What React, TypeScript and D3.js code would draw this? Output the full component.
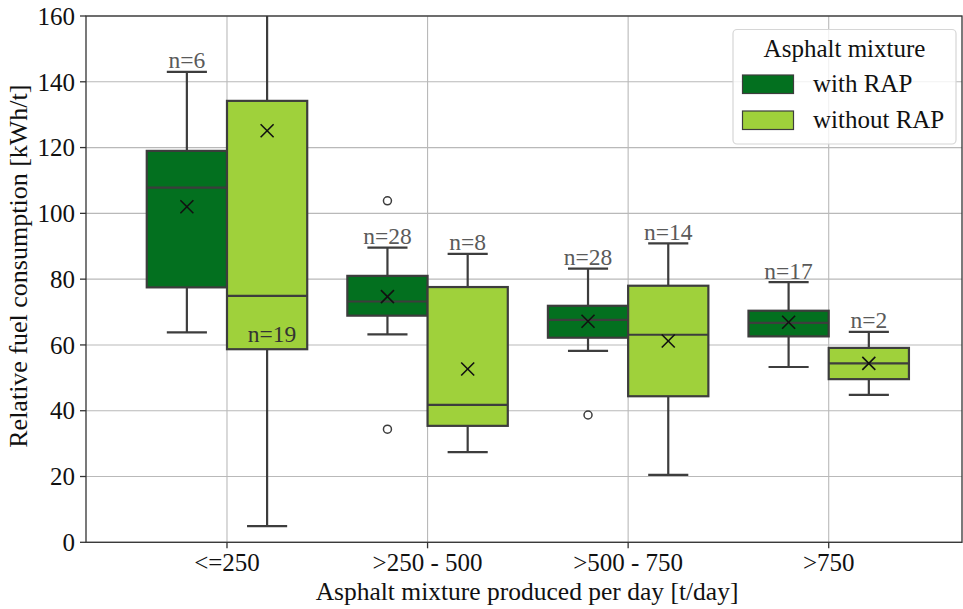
import React from "react";
import * as d3 from "d3";

const categories = ["<=250", ">250 - 500", ">500 - 750", ">750"];
const series = ["with RAP", "without RAP"];
const colors = ["#03701f", "#9fd13b"];

// [whiskerLow, q1, median, q3, whiskerHigh, mean] per category
const withRAP = [
  [63.8, 77.5, 107.8, 119.0, 143.0, 102.0],
  [63.2, 68.9, 73.2, 81.0, 89.6, 74.7],
  [58.2, 62.2, 67.6, 71.9, 83.2, 67.2],
  [53.3, 62.6, 66.7, 70.4, 79.1, 66.9],
];
const withoutRAP = [
  [4.9, 58.7, 74.9, 134.2, 176.0, 125.1],
  [27.4, 35.4, 41.8, 77.6, 87.7, 52.7],
  [20.5, 44.4, 63.1, 78.0, 90.9, 61.2],
  [44.8, 49.6, 54.4, 59.1, 64.0, 54.4],
];
const withRAPOutliers = [[], [103.8, 34.4], [38.7], []];
const withoutRAPOutliers = [[], [], [], []];
const withRAPCounts = [6, 28, 28, 17];
const withoutRAPCounts = [19, 8, 14, 2];
// value at which the n-label sits when the whisker leaves the plot (null = above whisker)
const withRAPLabelAt = [null, null, null, null];
const withoutRAPLabelAt = [61, null, null, null];

const yTicks = [0, 20, 40, 60, 80, 100, 120, 140, 160];

const W = 963;
const H = 609;
const left = 86;
const right = 962;
const top = 16;
const bottom = 542.3;
const font = "'Liberation Serif', 'Times New Roman', serif";

export default function App() {
  const y = d3.scaleLinear().domain([0, 160]).range([bottom, top]);
  const x = d3.scaleBand<string>().domain(categories).range([126.7, 929]).padding(0);
  const sub = d3
    .scaleBand<string>()
    .domain(series)
    .range([0, x.bandwidth()])
    .paddingInner(0)
    .paddingOuter(0.25);

  const all = [
    { stats: withRAP, outliers: withRAPOutliers, counts: withRAPCounts, labelAt: withRAPLabelAt },
    { stats: withoutRAP, outliers: withoutRAPOutliers, counts: withoutRAPCounts, labelAt: withoutRAPLabelAt },
  ];

  const edge = "#3d3d3d";
  const bw = sub.bandwidth();
  const capHalf = bw * 0.25;

  return (
    <svg
      width={W}
      height={H}
      style={{ position: "absolute", left: 0, top: 0, background: "#fff" }}
      fontFamily={font}
    >
      <defs>
        <clipPath id="plotclip">
          <rect x={left} y={top} width={right - left} height={bottom - top} />
        </clipPath>
      </defs>
      {/* grid */}
      <g stroke="#b9b9b9" strokeWidth={1.1}>
        {yTicks.map((t) => (
          <line key={t} x1={left} x2={right} y1={y(t)} y2={y(t)} />
        ))}
        {categories.map((c) => {
          const cx = (x(c) as number) + x.bandwidth() / 2;
          return <line key={c} x1={cx} x2={cx} y1={top} y2={bottom} />;
        })}
      </g>

      {/* boxes */}
      <g clipPath="url(#plotclip)">
        {all.map((s, si) =>
          categories.map((c, ci) => {
            const [lo, q1, med, q3, hi, mean] = s.stats[ci];
            const x0 = (x(c) as number) + (sub(series[si]) as number);
            const cx = x0 + bw / 2;
            return (
              <g key={`${si}-${ci}`}>
                <line x1={cx} x2={cx} y1={y(q3)} y2={y(hi)} stroke={edge} strokeWidth={2.2} />
                <line x1={cx} x2={cx} y1={y(q1)} y2={y(lo)} stroke={edge} strokeWidth={2.2} />
                <line x1={cx - capHalf} x2={cx + capHalf} y1={y(hi)} y2={y(hi)} stroke={edge} strokeWidth={2.2} />
                <line x1={cx - capHalf} x2={cx + capHalf} y1={y(lo)} y2={y(lo)} stroke={edge} strokeWidth={2.2} />
                <rect
                  x={x0}
                  y={y(q3)}
                  width={bw}
                  height={y(q1) - y(q3)}
                  fill={colors[si]}
                  stroke={edge}
                  strokeWidth={2.2}
                />
                <line x1={x0} x2={x0 + bw} y1={y(med)} y2={y(med)} stroke={edge} strokeWidth={2.2} />
                <g stroke="#111" strokeWidth={1.6}>
                  <line x1={cx - 6.5} x2={cx + 6.5} y1={y(mean) - 6.5} y2={y(mean) + 6.5} />
                  <line x1={cx - 6.5} x2={cx + 6.5} y1={y(mean) + 6.5} y2={y(mean) - 6.5} />
                </g>
                {s.outliers[ci].map((o, oi) => (
                  <circle key={oi} cx={cx} cy={y(o)} r={4} fill="none" stroke={edge} strokeWidth={1.5} />
                ))}
              </g>
            );
          })
        )}
      </g>

      {/* n labels */}
      {all.map((s, si) =>
        categories.map((c, ci) => {
          const hi = s.stats[ci][4];
          const x0 = (x(c) as number) + (sub(series[si]) as number);
          const cx = x0 + bw / 2;
          const at = s.labelAt[ci];
          const yy = at === null ? y(hi) - 3.5 : y(at);
          const tx = at === null ? cx : cx + 5;
          return (
            <text
              key={`n-${si}-${ci}`}
              x={tx}
              y={yy}
              textAnchor="middle"
              fontSize={23.5}
              fill={at === null ? "#5a5a5a" : "#333"}
            >
              {`n=${s.counts[ci]}`}
            </text>
          );
        })
      )}

      {/* spines */}
      <rect x={left} y={top} width={right - left} height={bottom - top} fill="none" stroke="#333" strokeWidth={1.3} />

      {/* y axis */}
      {yTicks.map((t) => (
        <g key={t}>
          <line x1={left - 6} x2={left} y1={y(t)} y2={y(t)} stroke="#333" strokeWidth={1.3} />
          <text x={left - 11} y={y(t)} dy="0.35em" textAnchor="end" fontSize={25} fill="#111">
            {t}
          </text>
        </g>
      ))}
      {/* x axis */}
      {categories.map((c) => {
        const cx = (x(c) as number) + x.bandwidth() / 2;
        return (
          <g key={c}>
            <line x1={cx} x2={cx} y1={bottom} y2={bottom + 6} stroke="#333" strokeWidth={1.3} />
            <text x={cx} y={bottom + 29} textAnchor="middle" fontSize={25} fill="#111">
              {c}
            </text>
          </g>
        );
      })}
      <text x={(left + right) / 2 + 3} y={600} textAnchor="middle" fontSize={25.5} fill="#111">
        Asphalt mixture produced per day [t/day]
      </text>
      <text
        transform={`translate(27, ${(top + bottom) / 2 - 13}) rotate(-90)`}
        textAnchor="middle"
        fontSize={26}
        fill="#111"
      >
        Relative fuel consumption [kWh/t]
      </text>

      {/* legend */}
      <g>
        <rect x={733} y={29.5} width={223} height={114.5} rx={4} fill="#fff" fillOpacity={0.8} stroke="#d6d6d6" strokeWidth={1.2} />
        <text x={844.5} y={57} textAnchor="middle" fontSize={25} fill="#111">
          Asphalt mixture
        </text>
        {series.map((s, i) => (
          <g key={s}>
            <rect x={742.5} y={75 + i * 36} width={51} height={18.5} fill={colors[i]} stroke={edge} strokeWidth={1.2} />
            <text x={813} y={92 + i * 36} fontSize={25} fill="#111">
              {s}
            </text>
          </g>
        ))}
      </g>
    </svg>
  );
}
